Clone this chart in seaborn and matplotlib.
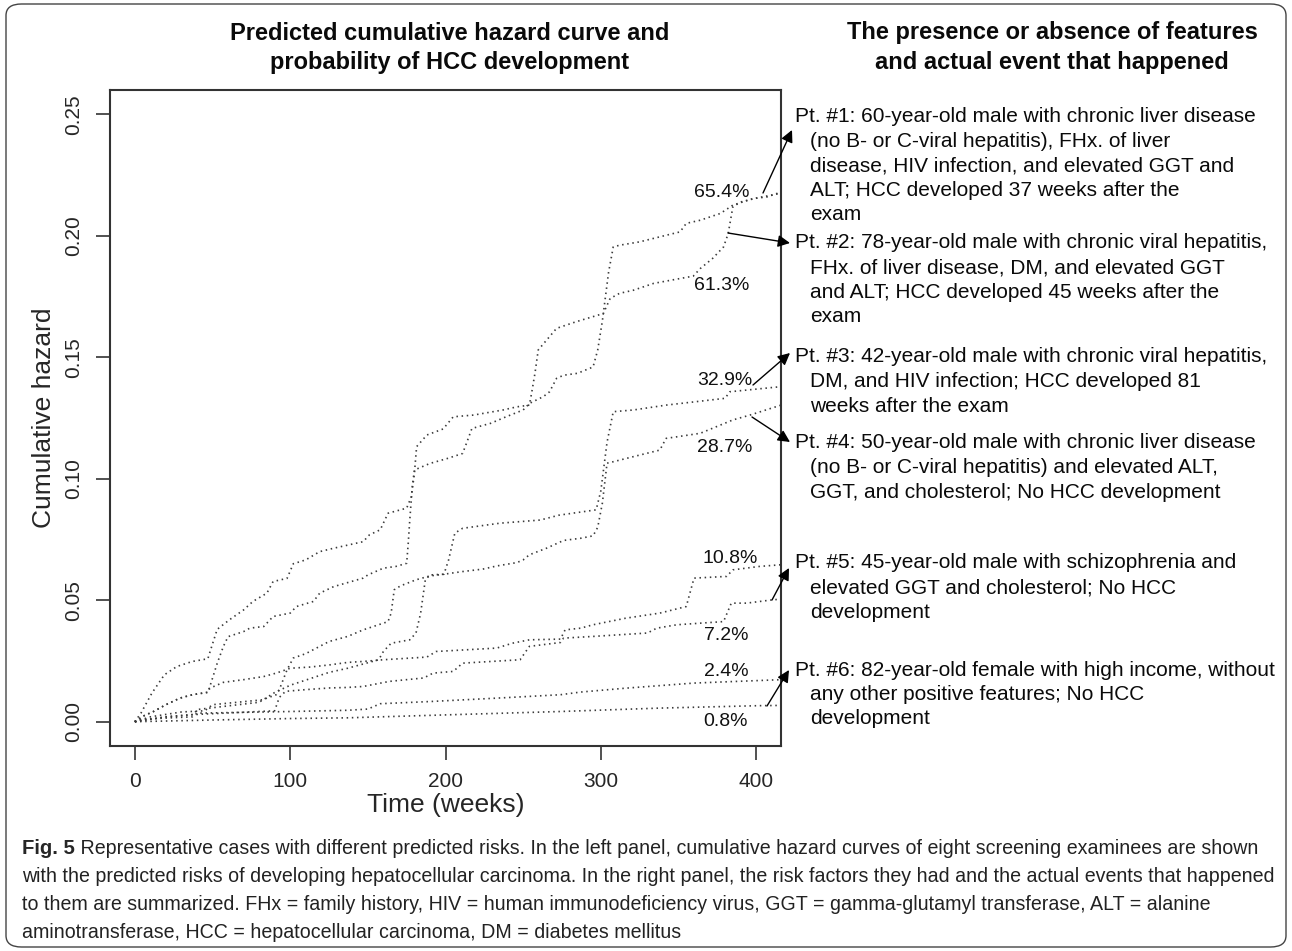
import numpy as np
import pandas as pd
import matplotlib
matplotlib.use("Agg")
import matplotlib.pyplot as plt
import seaborn as sns
from matplotlib.patches import FancyBboxPatch

sns.set_theme(style="white")
plt.rcParams['font.family'] = ['Liberation Sans', 'DejaVu Sans']

# ---- cumulative hazard curves (time in weeks, cumulative hazard) ----
pt1_t = [0, 5, 12, 20, 29, 37, 47, 49, 53, 57, 60, 70, 74, 83, 89, 100, 104, 115, 119, 128,
         147, 150, 160, 168, 175, 176, 177, 178.6, 180, 190, 201, 211, 213.5, 217, 229, 239,
         250, 254, 263, 267, 271.5, 276, 285, 295, 298, 301, 305, 308, 312, 325, 342, 351,
         355, 364, 377, 385, 398, 407, 416]
pt1_h = [0, .0022, .0042, .007, .0097, .0111, .0121, .0159, .024, .031, .035, .0371, .0385,
         .0392, .0433, .0447, .0474, .0495, .0529, .0556, .0591, .0604, .0632, .0639, .0652,
         .0734, .083, .0968, .1036, .1063, .1083, .1104, .1146, .1207, .1228, .1255, .1283,
         .131, .1338, .1358, .1413, .1426, .1434, .146, .153, .165, .185, .1954, .1961, .1975,
         .2002, .2016, .2051, .2064, .2092, .2126, .2153, .216, .218]

pt2_t = [0, 4, 11, 19, 27, 37, 47, 49, 53, 61, 70, 76, 85, 89, 98, 102, 110, 119, 128, 147,
         151, 158, 163, 175, 178, 180, 181.4, 188, 198.5, 205, 218, 237, 246, 254, 255.4,
         257.6, 259.7, 265, 271.5, 284, 301.6, 306, 312, 321, 334, 351, 359.5, 364, 372, 379,
         382, 385, 390, 400, 416]
pt2_h = [0, .0036, .0118, .0193, .0227, .0248, .0259, .030, .038, .042, .046, .0495, .0529,
         .0577, .059, .065, .0666, .070, .0714, .0741, .0769, .079, .0858, .0879, .0926, .1023,
         .1132, .118, .1205, .1255, .1262, .1283, .1296, .1303, .1351, .1434, .153, .157,
         .1619, .1646, .168, .1742, .1763, .1776, .1804, .1824, .1834, .1865, .1907, .1954,
         .2009, .2119, .2139, .2155, .2175]

pt3_t = [0, 10, 30, 45, 50, 82, 91, 93, 98, 102, 110, 125, 137, 147, 163, 165, 167, 171, 181,
         190, 199, 202, 206, 211, 235, 261, 273, 297, 300, 304, 308, 321, 342, 380, 383, 416]
pt3_h = [0, .002, .004, .0045, .007, .009, .0111, .0132, .0214, .0262, .028, .033, .0351,
         .0378, .0412, .0447, .0543, .0559, .0584, .060, .0607, .0666, .0776, .0796, .0817,
         .083, .085, .0872, .095, .115, .1276, .1283, .1303, .1331, .1358, .1379]

pt4_t = [0, 20, 38, 40, 80, 90, 100, 125, 137, 157, 160, 165, 177, 181, 184, 187, 190, 199,
         211, 224, 233, 246, 250, 254, 265, 276, 287, 295, 298, 301, 304, 308, 321, 338, 342,
         364, 385, 396, 416]
pt4_h = [0, .002, .003, .005, .008, .012, .015, .0203, .022, .0255, .0289, .0323, .0337,
         .0365, .0447, .0584, .0604, .0607, .0618, .0628, .0641, .0655, .0666, .0687, .0714,
         .0746, .0755, .0765, .080, .090, .1064, .107, .1091, .1118, .1166, .1187, .1242,
         .1262, .1303]

c108_t = [0, 5, 12, 20, 29, 37, 47, 48.3, 57, 70, 83, 91, 100, 113, 125.6, 137, 147, 160,
          188, 194, 233, 243, 254, 274, 277, 287, 295, 316, 338, 355, 360, 381, 385, 402, 416]
c108_h = [0, .0022, .0042, .007, .0097, .0111, .0121, .0138, .0162, .0173, .0186, .020, .022,
          .0225, .0234, .0244, .0248, .0255, .0266, .0289, .0303, .0323, .0337, .034, .0378,
          .0385, .0399, .0426, .0447, .0474, .0591, .0598, .0625, .0639, .0646]

pt5_t = [0, 20, 40, 90, 93, 97, 110, 125.6, 137, 147, 164, 186, 192, 205, 211, 248, 254, 274,
         276, 295, 330, 336, 349, 379, 384, 394, 411, 416]
pt5_h = [0, .002, .003, .0045, .010, .0125, .0132, .0139, .0141, .0145, .0166, .018, .020,
         .0207, .0241, .0255, .031, .0326, .0344, .0351, .0365, .0385, .0399, .0412, .0488,
         .0488, .0502, .0504]

c24_t = [0, 5, 20, 37, 40, 100, 137, 150, 158, 190, 233, 274, 287, 316, 360, 416]
c24_h = [0, .001, .0015, .002, .0035, .0042, .0047, .0052, .0074, .0083, .0097, .0111,
         .0122, .0138, .0159, .0173]

pt6_t = [0, 50, 100, 137, 200, 274, 338, 402, 416]
pt6_h = [0, .0007, .0013, .0016, .0028, .0042, .0056, .0066, .0067]

# predicted risk labels: (text, x, y)
risk_text = ["65.4%", "61.3%", "32.9%", "28.7%", "10.8%", "7.2%", "2.4%", "0.8%"]
risk_x = [378, 378, 380, 380, 383, 381, 380.5, 380.5]
risk_y = [0.2177, 0.1797, 0.1406, 0.113, 0.0673, 0.0354, 0.0207, 0.0]

x_ticks = [0, 100, 200, 300, 400]
y_ticks = [0.00, 0.05, 0.10, 0.15, 0.20, 0.25]

patient_notes = [
    ["Pt. #1: 60-year-old male with chronic liver disease",
     "(no B- or C-viral hepatitis), FHx. of liver",
     "disease, HIV infection, and elevated GGT and",
     "ALT; HCC developed 37 weeks after the",
     "exam"],
    ["Pt. #2: 78-year-old male with chronic viral hepatitis,",
     "FHx. of liver disease, DM, and elevated GGT",
     "and ALT; HCC developed 45 weeks after the",
     "exam"],
    ["Pt. #3: 42-year-old male with chronic viral hepatitis,",
     "DM, and HIV infection; HCC developed 81",
     "weeks after the exam"],
    ["Pt. #4: 50-year-old male with chronic liver disease",
     "(no B- or C-viral hepatitis) and elevated ALT,",
     "GGT, and cholesterol; No HCC development"],
    ["Pt. #5: 45-year-old male with schizophrenia and",
     "elevated GGT and cholesterol; No HCC",
     "development"],
    ["Pt. #6: 82-year-old female with high income, without",
     "any other positive features; No HCC",
     "development"],
]
note_top = [117, 243, 357, 443, 563, 670]

caption_bold = "Fig. 5"
caption_lines = [
    " Representative cases with different predicted risks. In the left panel, cumulative hazard curves of eight screening examinees are shown",
    "with the predicted risks of developing hepatocellular carcinoma. In the right panel, the risk factors they had and the actual events that happened",
    "to them are summarized. FHx = family history, HIV = human immunodeficiency virus, GGT = gamma-glutamyl transferase, ALT = alanine",
    "aminotransferase, HCC = hepatocellular carcinoma, DM = diabetes mellitus",
]

W, H = 1292, 951
fig = plt.figure(figsize=(W / 100, H / 100), dpi=100)
fig.patch.set_facecolor("white")


def fx(px):
    return px / W


def fy(py):
    return 1 - py / H


ax = fig.add_axes([fx(110), fy(746), fx(781) - fx(110), fy(90) - fy(746)])
ax.set_facecolor("white")

curves = [(pt1_t, pt1_h), (pt2_t, pt2_h), (pt3_t, pt3_h), (pt4_t, pt4_h),
          (c108_t, c108_h), (pt5_t, pt5_h), (c24_t, c24_h), (pt6_t, pt6_h)]
for t, h in curves:
    sns.lineplot(x=t, y=h, ax=ax, color="#3a3a3a", linewidth=1.2,
                 linestyle=(0, (0.9, 2.2)), estimator=None, sort=False, legend=False)

ax.set_xlim(-16, 416)
ax.set_ylim(-0.01, 0.26)
ax.set_xticks(x_ticks)
ax.set_xticklabels([str(v) for v in x_ticks], fontsize=15)
ax.set_yticks(y_ticks)
ax.set_yticklabels([f"{v:.2f}" for v in y_ticks], fontsize=15, rotation=90, va="center")
ax.tick_params(axis="both", direction="out", length=10, width=1.2, color="#333333",
               bottom=True, left=True, pad=9)
for s in ax.spines.values():
    s.set_visible(True)
    s.set_color("#333333")
    s.set_linewidth(1.5)
ax.set_xlabel("Time (weeks)", fontsize=19, labelpad=1)
ax.set_ylabel("Cumulative hazard", fontsize=19, labelpad=6)
ax.grid(False)

for txt, x, y in zip(risk_text, risk_x, risk_y):
    ax.text(x, y, txt, fontsize=14, ha="center", va="center", color="#111111")

# titles
title_kw = dict(fontsize=17, fontweight="bold", ha="center", va="center", color="#0a0a0a")
fig.text(fx(450), fy(33), "Predicted cumulative hazard curve and", **title_kw)
fig.text(fx(450), fy(62), "probability of HCC development", **title_kw)
fig.text(fx(1052), fy(33), "The presence or absence of features", **title_kw)
fig.text(fx(1052), fy(62), "and actual event that happened", **title_kw)

# patient notes
for lines, top in zip(patient_notes, note_top):
    for i, line in enumerate(lines):
        x0 = 795 if i == 0 else 810
        fig.text(fx(x0), fy(top + i * 24.5), line, fontsize=15, ha="left", va="center",
                 color="#0a0a0a")

# arrows from curves to notes
arrows = [((763, 193), (792, 130)), ((728, 233), (790, 243)), ((753, 385), (790, 353)),
          ((752, 417), (790, 442)), ((772, 600), (789, 568)), ((767, 706), (789, 670))]
for (sx, sy), (ex, ey) in arrows:
    ax.annotate("", xy=(fx(ex), fy(ey)), xycoords="figure fraction",
                xytext=(fx(sx), fy(sy)), textcoords="figure fraction",
                arrowprops=dict(arrowstyle="-|>", color="black", lw=1.0,
                                mutation_scale=18, shrinkA=0, shrinkB=0),
                annotation_clip=False)

# caption
cap_font = ['Liberation Sans', 'DejaVu Sans']
cap_size = 14.1
cap_y = [848, 877, 905, 932]
t0 = fig.text(fx(22), fy(cap_y[0]), caption_bold, fontsize=cap_size + 0.5, fontweight="bold",
              family=cap_font, ha="left", va="center")
fig.canvas.draw()
bb = t0.get_window_extent()
fig.text(bb.x1 / W, fy(cap_y[0]), caption_lines[0], fontsize=cap_size, family=cap_font,
         ha="left", va="center", color="#222222")
for line, y in zip(caption_lines[1:], cap_y[1:]):
    fig.text(fx(22), fy(y), line, fontsize=cap_size, family=cap_font, ha="left", va="center",
             color="#222222")

# rounded frame around the whole figure
frame = FancyBboxPatch((fx(6), fy(947)), fx(1286) - fx(6), fy(4) - fy(947),
                       boxstyle="round,pad=0,rounding_size=0.012", transform=fig.transFigure,
                       fill=False, edgecolor="#444444", linewidth=1.0)
fig.patches.append(frame)

fig.savefig("out.png", dpi=100, facecolor="white")
